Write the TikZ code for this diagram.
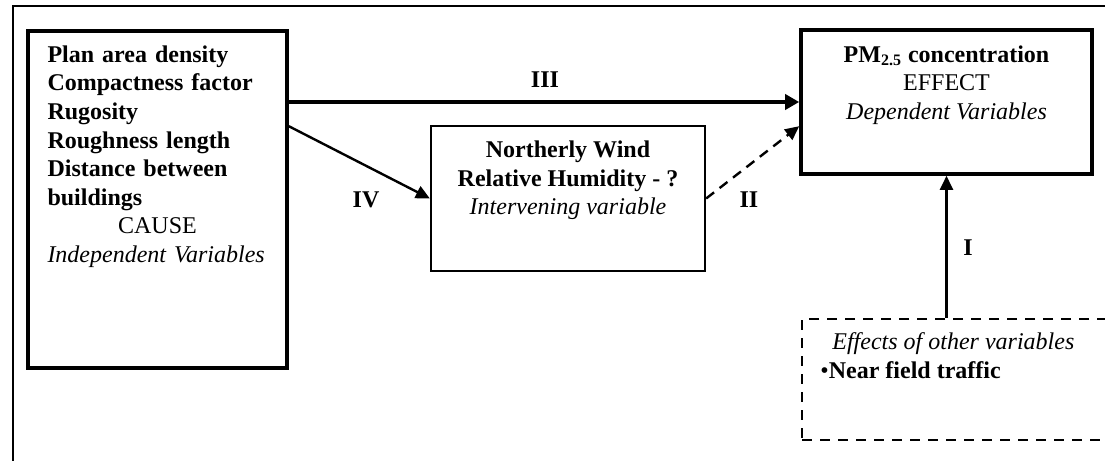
\documentclass[tikz,border=0pt]{standalone}
\usepackage{fontspec}
\setmainfont{Liberation Serif}
\usetikzlibrary{arrows.meta,calc,positioning}
\newcommand{\diagfont}{\fontsize{12pt}{14.3pt}\selectfont}
\tikzset{
  box/.style    = {draw, line width=1.8pt, inner sep=0pt},
  midbox/.style = {draw, line width=1.15pt, inner sep=0pt},
  dashbox/.style= {draw, line width=1pt, dash pattern=on 5pt off 4pt, inner sep=0pt},
  txt/.style    = {inner sep=0pt, anchor=north},
  lbl/.style    = {inner sep=0pt, anchor=base, font=\diagfont\bfseries},
  bigarr/.style = {-{Triangle[length=7pt,width=7.5pt]}, line width=2.4pt},
  arr/.style    = {-{Triangle[length=7pt,width=6.5pt]}, line width=1.2pt},
  frame/.style  = {line width=1pt},
}

\begin{document}
\begin{tikzpicture}[x=0.5pt,y=-0.5pt,font=\diagfont]
  \useasboundingbox (0,0) rectangle (1105,461);
  \clip (0,0) rectangle (1105,461);
  \draw[frame] (13,6) rectangle (1120,480);

  % boxes
  \node[box, minimum width=129.5pt, minimum height=168.5pt] (cause) at (157.5,199.5) {};
  \node[midbox, minimum width=137pt, minimum height=72.5pt] (interv) at (568,198.5) {};
  \node[box, minimum width=145.5pt, minimum height=72pt] (effect) at (946.5,102) {};
  \node[dashbox, minimum width=154pt, minimum height=60.5pt] (other) at (956,379.5) {};

  % box texts
  \node[txt, text width=110pt, align=left] (causetxt) at ($(cause.north)+(0,16)$)
    {\textbf{Plan area density\\Compactness factor\\Rugosity\\Roughness length\\Distance between\\buildings}\par
     \centering CAUSE\\\mbox{\itshape Independent Variables}};
  \node[txt, align=center] (intervtxt) at ($(interv.north)+(0,15.5)$)
    {\textbf{Northerly Wind}\\\textbf{Relative Humidity - ?}\\\textit{Intervening variable}};
  \node[txt, align=center] (effecttxt) at ($(effect.north)+(0,17)$)
    {\textbf{PM\textsubscript{2.5} concentration}\\EFFECT\\\textit{Dependent Variables}};
  \node[txt, anchor=north west, align=left] (othertxt) at ($(other.north west)+(19,14.5)$)
    {\hspace*{6pt}\textit{Effects of other variables}\\\textbullet\textbf{Near field traffic}};

  % connectors
  \draw[bigarr] (cause.east |- effect.west) -- (effect.west);
  \draw[arr] ($(cause.north east)+(0,97)$) -- (interv.west);
  \draw[arr, dash pattern=on 5pt off 3.5pt] (interv.east) -- ($(effect.north west)+(0,98)$);
  \draw[arr] (effect.south |- other.north) -- (effect.south);

  % labels
  \node[lbl] (lIII) at (545,87) {III};
  \node[lbl] (lIV) at (366,207) {IV};
  \node[lbl] (lII) at (749,207) {II};
  \node[lbl] (lI) at (968,255) {I};
\end{tikzpicture}
\end{document}
